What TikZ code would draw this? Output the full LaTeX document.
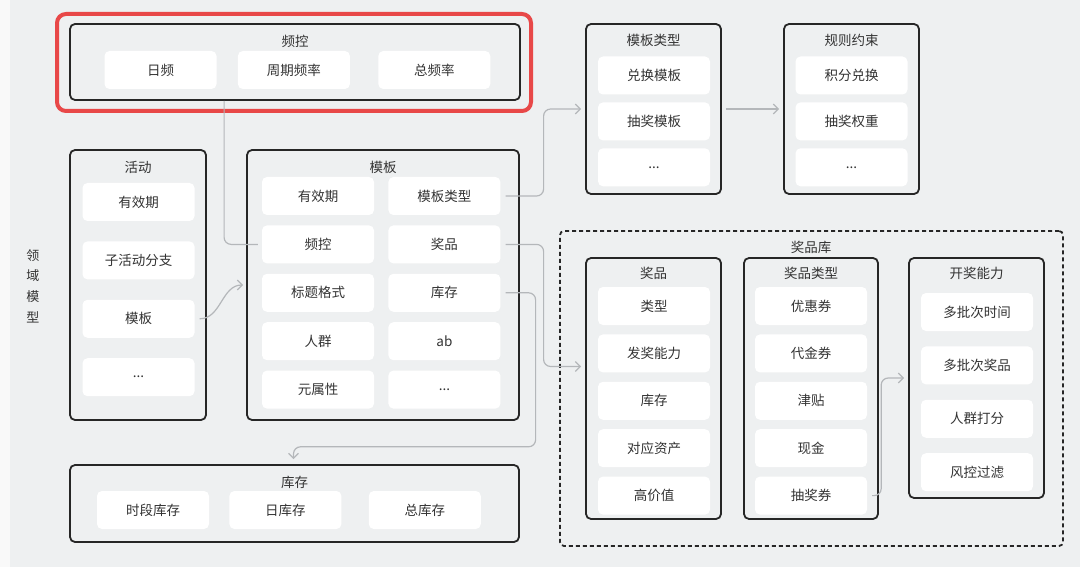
\documentclass[tikz,border=0pt]{standalone}
\usepackage{fontspec}
\setmainfont{Noto Sans CJK SC}
\usepackage{xcolor}
\usepackage{tikz}
\usetikzlibrary{
	arrows.meta,
	positioning,
	}
\definecolor{bg}{RGB}{238,240,241}
\definecolor{edge}{RGB}{249,249,249}
\definecolor{hl}{RGB}{232,72,72}
\definecolor{txt}{RGB}{51,51,51}
\definecolor{lnk}{RGB}{180,183,186}
\tikzset{
	item/.style={fill=white, rounded corners=5pt, minimum width=112pt, minimum height=38pt, inner sep=0pt, text=txt, font=\fontsize{13.5}{15}\selectfont},
	group/.style={draw=black!85, line width=1.8pt, rounded corners=5pt, inner sep=0pt},
	title/.style={text=txt, inner sep=0pt, font=\fontsize{13.5}{15}\selectfont},
	link/.style={draw=lnk, line width=1.2pt, rounded corners=7pt},
	arr/.style={link, -{Straight Barb[length=5pt,width=10pt]}},
}
\begin{document}
\begin{tikzpicture}[x=1pt, y=-1pt]
		\useasboundingbox (0,0) rectangle (1080,567);
		\fill[bg] (0,0) rectangle (1080,567);
		\fill[edge] (0,0) rectangle (10,567);
		\node[title, align=center, font=\fontsize{13}{20.7}\selectfont] (ly) at (33,286) {领\\域\\模\\型};
		% 频控
		\node[draw=hl, line width=4pt, rounded corners=9pt, minimum width=474pt, minimum height=97pt, inner sep=0pt] (red) at (294,62.5) {};
		\node[group, minimum width=450pt, minimum height=76pt] (pk) at (295,62) {};
		\node[title] (pkT) at (295,41) {频控};
		\node[item] (pk1) at (160.5,70) {日频};
		\node[item, right=21pt of pk1] (pk2) {周期频率};
		\node[item, right=28pt of pk2] (pk3) {总频率};
		% 活动
		\node[group, minimum width=136pt, minimum height=270pt] (hd) at (138,285) {};
		\node[title] (hdT) at (138,167) {活动};
		\node[item] (hd1) at (138.5,202) {有效期};
		\node[item, below=20pt of hd1] (hd2) {子活动分支};
		\node[item, below=20pt of hd2] (hd3) {模板};
		\node[item, below=20pt of hd3] (hd4) {...};
		% 模板
		\node[group, minimum width=272pt, minimum height=270pt] (mb) at (383,285) {};
		\node[title] (mbT) at (383,167) {模板};
		\node[item] (mb1) at (318,196) {有效期};
		\node[item, right=14pt of mb1] (mb2) {模板类型};
		\node[item, below=10pt of mb1] (mb3) {频控};
		\node[item, below=10pt of mb2] (mb4) {奖品};
		\node[item, below=10pt of mb3] (mb5) {标题格式};
		\node[item, below=10pt of mb4] (mb6) {库存};
		\node[item, below=10pt of mb5] (mb7) {人群};
		\node[item, below=10pt of mb6] (mb8) {ab};
		\node[item, below=10pt of mb7] (mb9) {元属性};
		\node[item, below=10pt of mb8] (mb10) {...};
		% 库存
		\node[group, minimum width=449pt, minimum height=77pt] (kc) at (294.5,503.5) {};
		\node[title] (kcT) at (294.5,482) {库存};
		\node[item] (kc1) at (153,510) {时段库存};
		\node[item, right=20pt of kc1] (kc2) {日库存};
		\node[item, right=27pt of kc2] (kc3) {总库存};
		% 模板类型
		\node[group, minimum width=135pt, minimum height=170pt] (lx) at (653.5,109) {};
		\node[title] (lxT) at (653.5,40) {模板类型};
		\node[item] (lx1) at (654,75.5) {兑换模板};
		\node[item, below=7.5pt of lx1] (lx2) {抽奖模板};
		\node[item, below=7.5pt of lx2] (lx3) {...};
		% 规则约束
		\node[group, minimum width=135pt, minimum height=170pt] (gz) at (851.5,109) {};
		\node[title] (gzT) at (851.5,40) {规则约束};
		\node[item] (gz1) at (851.5,75.5) {积分兑换};
		\node[item, below=7.5pt of gz1] (gz2) {抽奖权重};
		\node[item, below=7.5pt of gz2] (gz3) {...};
		% 奖品库
		\node[draw=black!85, line width=1.8pt, dash pattern=on 4pt off 3pt, rounded corners=4pt, minimum width=503pt, minimum height=315pt, inner sep=0pt] (jpk) at (811.5,388.5) {};
		\node[title] (jpkT) at (811,247) {奖品库};
		\node[group, minimum width=135pt, minimum height=261pt] (jp) at (653.5,388.5) {};
		\node[title] (jpT) at (653.5,273) {奖品};
		\node[item] (jp1) at (654,306) {类型};
		\node[item, below=9pt of jp1] (jp2) {发奖能力};
		\node[item, below=9pt of jp2] (jp3) {库存};
		\node[item, below=9pt of jp3] (jp4) {对应资产};
		\node[item, below=9pt of jp4] (jp5) {高价值};
		\node[group, minimum width=134pt, minimum height=261pt] (jl) at (811,388.5) {};
		\node[title] (jlT) at (811,273) {奖品类型};
		\node[item] (jl1) at (811,306) {优惠券};
		\node[item, below=9pt of jl1] (jl2) {代金券};
		\node[item, below=9pt of jl2] (jl3) {津贴};
		\node[item, below=9pt of jl3] (jl4) {现金};
		\node[item, below=9pt of jl4] (jl5) {抽奖券};
		\node[group, minimum width=135pt, minimum height=240pt] (kj) at (976.5,378) {};
		\node[title] (kjT) at (976.5,273) {开奖能力};
		\node[item] (kj1) at (977,312) {多批次时间};
		\node[item, below=15pt of kj1] (kj2) {多批次奖品};
		\node[item, below=15pt of kj2] (kj3) {人群打分};
		\node[item, below=15pt of kj3] (kj4) {风控过滤};
		% connectors
		\draw[link] ([xshift=155pt]pk.south west) |- ([xshift=-4pt]mb3.west);
		\draw[arr] ([xshift=5pt]hd3.east) to[out=0, in=180] ([xshift=-3pt]mb.west);
		\draw[arr] ([xshift=5pt]mb2.east) -- ++(38,0) |- ([xshift=-4pt]lx.west);
		\draw[arr] ([xshift=4pt]lx.east) -- ([xshift=-4pt]gz.west);
		\draw[arr] ([xshift=5pt]mb4.east) -- ++(38,0) |- ([xshift=-4pt,yshift=22pt]jp.west);
		\draw[arr] ([xshift=5pt]mb6.east) -- ++(30,0) -- ++(0,154) -| ([xshift=-1pt,yshift=5pt]kc.north);
		\draw[arr] ([xshift=5pt]jl5.east) -- ++(9,0) |- ([xshift=-4pt]kj.west);
	\end{tikzpicture}
\end{document}
